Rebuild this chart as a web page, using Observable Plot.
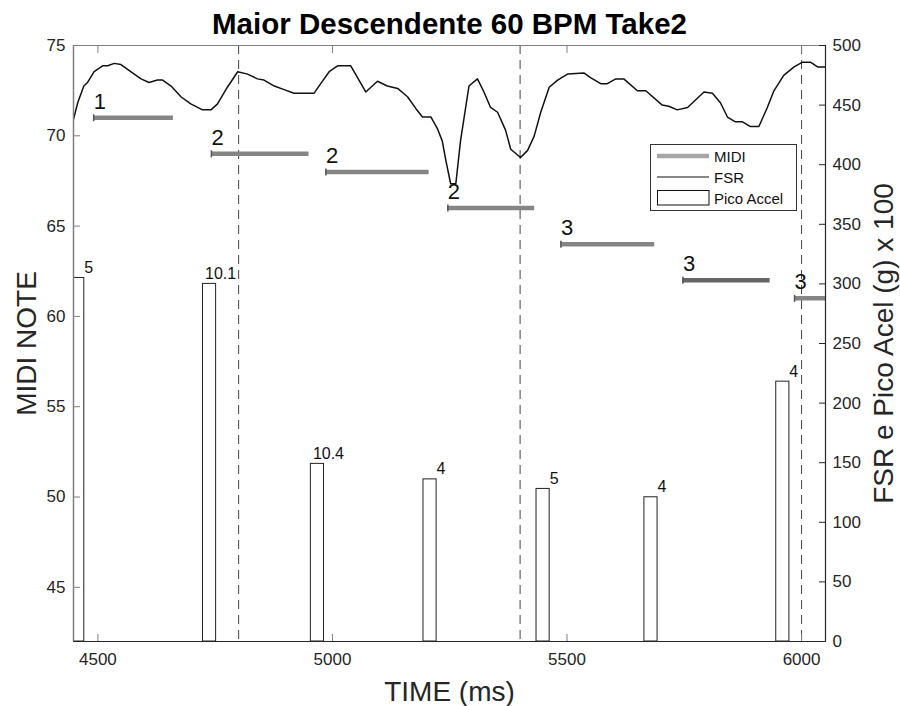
<!DOCTYPE html>
<html>
<head>
<meta charset="utf-8">
<script src="https://cdn.jsdelivr.net/npm/d3@7"></script>
<script src="https://cdn.jsdelivr.net/npm/@observablehq/plot@0.6"></script>
<style>
  html, body { margin: 0; padding: 0; background: #fff; }
  #chart svg { display: block; }
</style>
</head>
<body>
<div id="chart"></div>
<script>
// ---------- data ----------
const xTicks = [4500, 5000, 5500, 6000];
const noteTicks = [45, 50, 55, 60, 65, 70, 75];
const rightTicks = [0, 50, 100, 150, 200, 250, 300, 350, 400, 450, 500];
const beatTimes = [4800, 5400, 6000];

const midiStart = [4491, 4742, 4986, 5246, 5487, 5747, 5985];
const midiEnd   = [4661, 4950, 5206, 5431, 5687, 5933, 6170];
const midiNote  = [71, 69, 68, 66, 64, 62, 61];
const midiLabel = ["1", "2", "2", "2", "3", "3", "3"];

const accelTimes  = [4457, 4738, 4968, 5208, 5449, 5679, 5960];
const accelValues = [305, 300, 149, 136, 128, 121, 218];
const accelLabels = ["5", "10.1", "10.4", "4", "5", "4", "4"];

const fsrTime = [4448, 4457, 4470, 4478, 4492, 4510, 4521, 4535, 4549, 4570, 4592, 4609, 4627, 4638, 4656, 4677, 4698, 4723, 4741, 4755, 4776, 4798, 4819, 4840, 4854, 4876, 4897, 4918, 4961, 4975, 4993, 5011, 5039, 5071, 5096, 5117, 5139, 5160, 5178, 5192, 5210, 5224, 5234, 5242, 5252, 5263, 5273, 5291, 5309, 5323, 5337, 5352, 5369, 5380, 5401, 5416, 5430, 5444, 5462, 5480, 5501, 5536, 5550, 5572, 5586, 5604, 5621, 5650, 5668, 5703, 5717, 5735, 5757, 5792, 5810, 5827, 5842, 5859, 5874, 5891, 5909, 5927, 5941, 5962, 5984, 6002, 6019, 6034, 6051];
const fsrValue = [438, 452, 466, 469, 478, 483, 483, 485, 484, 478, 472, 469, 471, 471, 466, 457, 451, 446, 446, 451, 465, 478, 476, 472, 471, 466, 463, 460, 460, 468, 478, 483, 483, 461, 470, 466, 464, 457, 447, 440, 440, 430, 420, 403, 384, 384, 420, 466, 472, 461, 448, 444, 429, 413, 406, 412, 424, 444, 465, 471, 476, 477, 473, 468, 468, 472, 472, 462, 462, 450, 449, 446, 448, 461, 460, 452, 440, 436, 436, 432, 432, 448, 462, 475, 482, 486, 486, 482, 482];

// ---------- scales config ----------
const xDomain = [4448, 6051];
const noteDomain = [42, 75];      // left axis (MIDI NOTE)
const rightDomain = [0, 500];     // right axis (FSR e Pico Acel)
const noteToY = n => rightDomain[0] + (n - noteDomain[0]) * (rightDomain[1] - rightDomain[0]) / (noteDomain[1] - noteDomain[0]);
const yToNote = y => noteDomain[0] + (y - rightDomain[0]) * (noteDomain[1] - noteDomain[0]) / (rightDomain[1] - rightDomain[0]);

const fsr = fsrTime.map((t, i) => ({t, v: fsrValue[i]}));
const accel = accelTimes.map((t, i) => ({t, v: accelValues[i], label: accelLabels[i]}));
const midi = midiStart.map((s, i) => ({s, e: midiEnd[i], y: noteToY(midiNote[i]), label: midiLabel[i], i}));
const barHalf = 14;

const startTick = {draw(ctx) { ctx.moveTo(0, -3.5); ctx.lineTo(0, 3.5); }};

const FONT = "'Liberation Sans', Arial, Helvetica, sans-serif";

const svg = Plot.plot({
  width: 900,
  height: 706,
  marginLeft: 73,
  marginRight: 75,
  marginTop: 45,
  marginBottom: 65,
  style: {fontFamily: FONT, background: "#fff", color: "#262626"},
  x: {domain: xDomain, label: null},
  y: {domain: rightDomain, label: null},
  marks: [
    // Pico Accel bars
    Plot.rectY(accel, {x1: d => d.t - barHalf, x2: d => d.t + barHalf, y1: 0, y2: "v", fill: "white", stroke: "#222", strokeWidth: 1, clip: true}),
    Plot.text(accel, {x: "t", y: "v", text: "label", textAnchor: "middle", lineAnchor: "bottom", dx: 11, dy: -5, fontSize: 16, fill: "#111"}),
    // beat lines
    Plot.ruleX(beatTimes, {stroke: "#444", strokeWidth: 1, strokeDasharray: "9,6"}),
    // MIDI segments
    Plot.ruleY(midi, {x1: "s", x2: "e", y: "y", stroke: d => d.i === 5 ? "#666666" : "#858585", strokeWidth: 4.5, clip: true}),
    Plot.dot(midi, {x: "s", y: "y", symbol: startTick, stroke: "#555", strokeWidth: 1.5, fill: "none"}),
    Plot.text(midi, {x: "s", y: "y", text: "label", textAnchor: "start", lineAnchor: "bottom", dy: -9, fontSize: 22, fill: "#111"}),
    // FSR line
    Plot.line(fsr, {x: "t", y: "v", stroke: "#111", strokeWidth: 1.5, clip: true}),
    // frame
    Plot.ruleY([rightDomain[0]], {stroke: "#262626", strokeWidth: 1.2}),
    Plot.ruleY([rightDomain[1]], {stroke: "#808080", strokeWidth: 1.2}),
    Plot.ruleX([xDomain[0]], {stroke: "#808080", strokeWidth: 1.5}),
    Plot.ruleX([xDomain[1]], {stroke: "#262626", strokeWidth: 1.2}),
    // axes
    Plot.axisX(xTicks, {anchor: "bottom", tickSize: -7, tickPadding: 18, fontSize: 17, tickFormat: d => String(d), stroke: "#808080", fill: "#262626", label: null}),
    Plot.axisX(xTicks, {anchor: "top", tickSize: -7, tickFormat: () => "", stroke: "#808080", label: null}),
    Plot.axisY(noteTicks.map(noteToY), {anchor: "left", tickSize: -7, tickPadding: 15, fontSize: 17, tickFormat: d => String(Math.round(yToNote(d))), stroke: "#808080", fill: "#262626", label: null}),
    Plot.axisY(rightTicks, {anchor: "right", tickSize: -7, tickPadding: 14, fontSize: 17, tickFormat: d => String(d), stroke: "#262626", fill: "#262626", label: null}),
    // titles
    Plot.text(["Maior Descendente 60 BPM Take2"], {frameAnchor: "top", textAnchor: "middle", lineAnchor: "bottom", dy: -12, fontSize: 29.5, fontWeight: "bold", fill: "#000"}),
    Plot.text(["TIME (ms)"], {frameAnchor: "bottom", textAnchor: "middle", lineAnchor: "bottom", dy: 59, fontSize: 28, fill: "#262626"}),
    Plot.text(["MIDI NOTE"], {frameAnchor: "left", textAnchor: "middle", lineAnchor: "bottom", rotate: -90, dx: -38, fontSize: 28, fill: "#262626"}),
    Plot.text(["FSR e Pico Acel (g) x 100"], {frameAnchor: "right", textAnchor: "middle", lineAnchor: "bottom", rotate: -90, dx: 67, fontSize: 28, fill: "#262626"})
  ]
});

// ---------- legend ----------
const lg = d3.select(svg).append("g").attr("font-family", FONT).attr("font-size", 15).attr("text-anchor", "start");
lg.append("rect").attr("x", 650.5).attr("y", 144.5).attr("width", 146).attr("height", 66)
  .attr("fill", "white").attr("stroke", "#333").attr("stroke-width", 1);
const items = [
  {label: "MIDI", kind: "midi"},
  {label: "FSR", kind: "fsr"},
  {label: "Pico Accel", kind: "bar"}
];
items.forEach((it, k) => {
  const cy = 156 + k * 21;
  if (it.kind === "midi") {
    lg.append("line").attr("x1", 657).attr("x2", 709).attr("y1", cy).attr("y2", cy)
      .attr("stroke", "#a6a6a6").attr("stroke-width", 4.5);
  } else if (it.kind === "fsr") {
    lg.append("line").attr("x1", 657).attr("x2", 709).attr("y1", cy).attr("y2", cy)
      .attr("stroke", "#111").attr("stroke-width", 1.2);
  } else {
    lg.append("rect").attr("x", 657.5).attr("y", cy - 7.5).attr("width", 51.5).attr("height", 14.5)
      .attr("fill", "white").attr("stroke", "#111").attr("stroke-width", 1);
  }
  lg.append("text").attr("x", 714).attr("y", cy + 6).attr("fill", "#111").attr("text-anchor", "start").text(it.label);
});

document.getElementById("chart").appendChild(svg);
</script>
</body>
</html>
